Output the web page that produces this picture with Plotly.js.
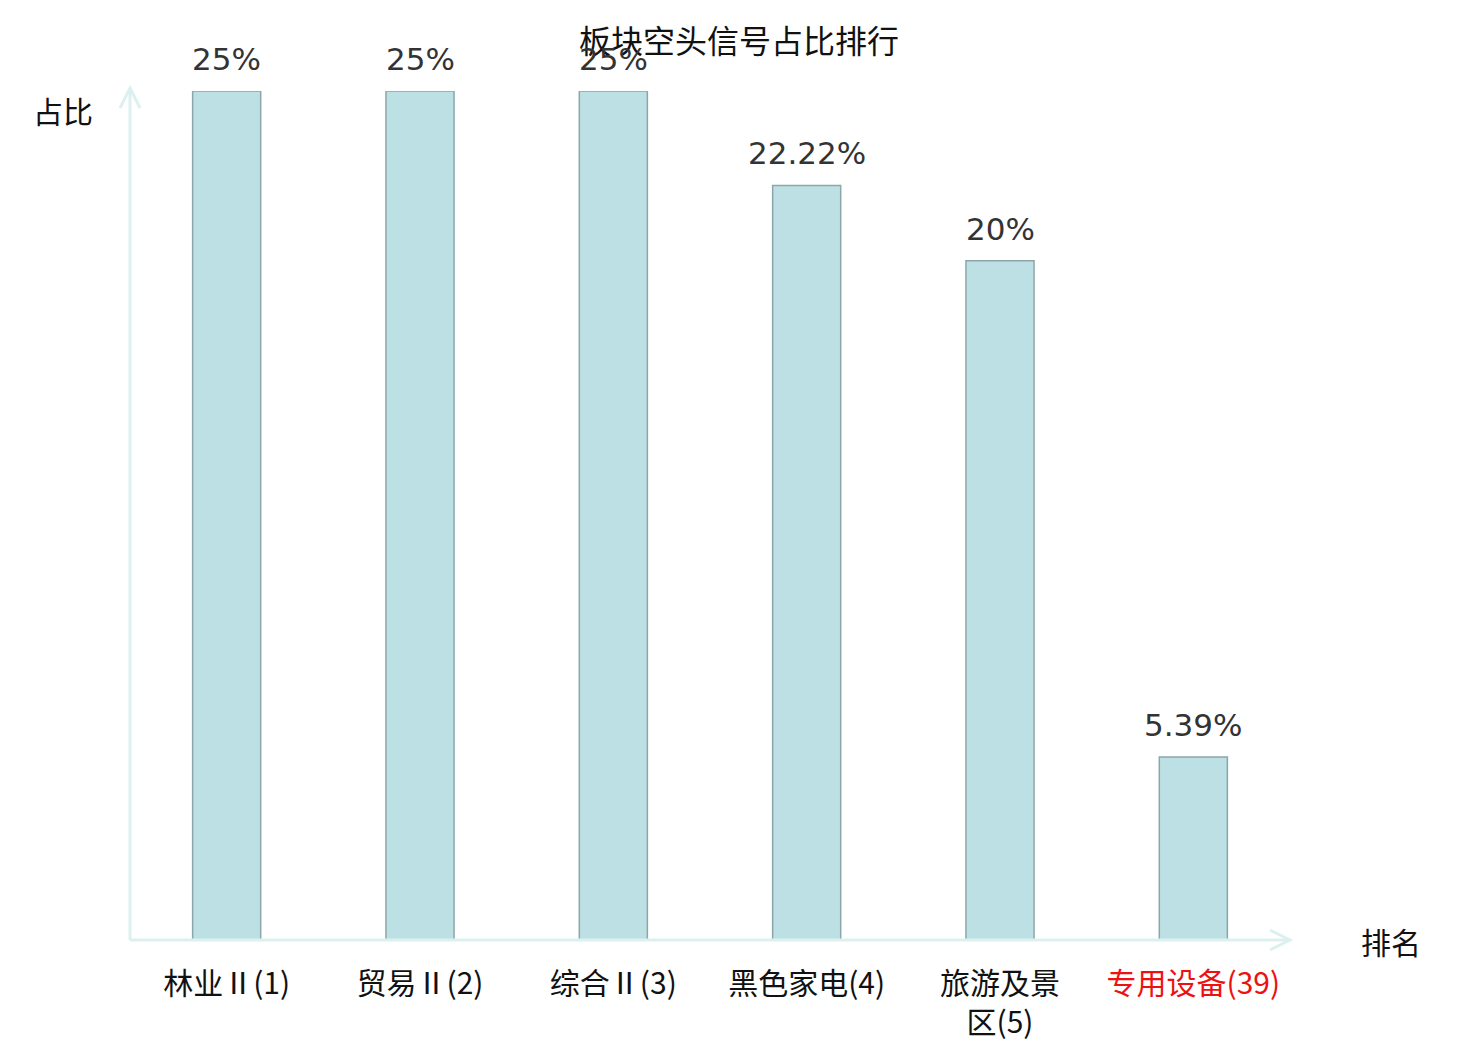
<!DOCTYPE html>
<html><head><meta charset="utf-8">
<script src="https://cdn.plot.ly/plotly-3.0.1.min.js"></script>
<style>html,body{margin:0;padding:0;background:#fff}#chart{width:1480px;height:1040px}</style>
</head><body><div id="chart"></div>
<script>
const categories = ["林业Ⅱ(1)", "贸易Ⅱ(2)", "综合Ⅱ(3)", "黑色家电(4)", "旅游及景区(5)", "专用设备(39)"];
const tickLabels = ["林业Ⅱ(1)", "贸易Ⅱ(2)", "综合Ⅱ(3)", "黑色家电(4)", "旅游及景<br>区(5)", "<span style=\"color:#ee1111\">专用设备(39)</span>"];
const values = [25, 25, 25, 22.22, 20, 5.39];
const valueLabels = ["25%", "25%", "25%", "22.22%", "20%", "5.39%"];

const W = 1480, H = 1040;
const L = 130, R = 190, T = 91, B = 100;
const pw = W - L - R, ph = H - T - B;
const axisColor = "#dcf1ef";
function px(x){ return (x - L) / pw; }
function py(y){ return (H - B - y) / ph; }

const trace = {
  type: "bar",
  x: categories,
  y: values,
  marker: {color: "#bce0e3", line: {color: "#8ba7a9", width: 1.5}},
  hoverinfo: "none"
};

const lineStyle = {color: axisColor, width: 3};
const shapes = [
  {type: "line", xref: "paper", yref: "paper", x0: 0, y0: 0, x1: px(1290), y1: 0, line: lineStyle},
  {type: "line", xref: "paper", yref: "paper", x0: 0, y0: 0, x1: 0, y1: py(88), line: lineStyle},
  {type: "path", xref: "paper", yref: "paper",
   path: `M ${px(1270)} ${py(930)} L ${px(1290)} ${py(940)} L ${px(1270)} ${py(950)}`, line: lineStyle},
  {type: "path", xref: "paper", yref: "paper",
   path: `M ${px(120)} ${py(108)} L ${px(130)} ${py(88)} L ${px(140)} ${py(108)}`, line: lineStyle}
];

const valueAnnotations = categories.map((c, i) => ({
  x: c, y: values[i], xref: "x", yref: "y", text: valueLabels[i],
  xanchor: "center", yanchor: "bottom", yshift: 12, showarrow: false,
  font: {family: "DejaVu Sans, Noto Sans CJK SC", size: 31, color: "#333333"}
}));

const layout = {
  width: W, height: H,
  margin: {l: L, r: R, t: T, b: B, pad: 0},
  paper_bgcolor: "#ffffff", plot_bgcolor: "#ffffff",
  showlegend: false,
  bargap: 0.648,
  title: {text: "板块空头信号占比排行", font: {family: "Noto Sans CJK SC", size: 32, color: "#111111"},
          x: 739 / W, xanchor: "center", xref: "container", y: 1 - 42 / H, yanchor: "middle", yref: "container"},
  xaxis: {type: "category", tickvals: categories, ticktext: tickLabels, showline: false, showgrid: false,
          zeroline: false, ticks: "", ticklabelstandoff: 23,
          tickfont: {family: "Noto Sans CJK SC", size: 30, color: "#111111"}},
  yaxis: {range: [0, 25], showticklabels: false, showgrid: false, zeroline: false, showline: false, ticks: ""},
  shapes: shapes,
  annotations: valueAnnotations.concat([
    {text: "占比", xref: "paper", yref: "paper", x: px(63), y: py(110), xanchor: "center", yanchor: "middle",
     showarrow: false, font: {family: "Noto Sans CJK SC", size: 30, color: "#111111"}},
    {text: "排名", xref: "paper", yref: "paper", x: px(1391), y: py(941), xanchor: "center", yanchor: "middle",
     showarrow: false, font: {family: "Noto Sans CJK SC", size: 30, color: "#111111"}}
  ])
};

Plotly.newPlot("chart", [trace], layout, {displayModeBar: false, staticPlot: true});
</script>
</body></html>
